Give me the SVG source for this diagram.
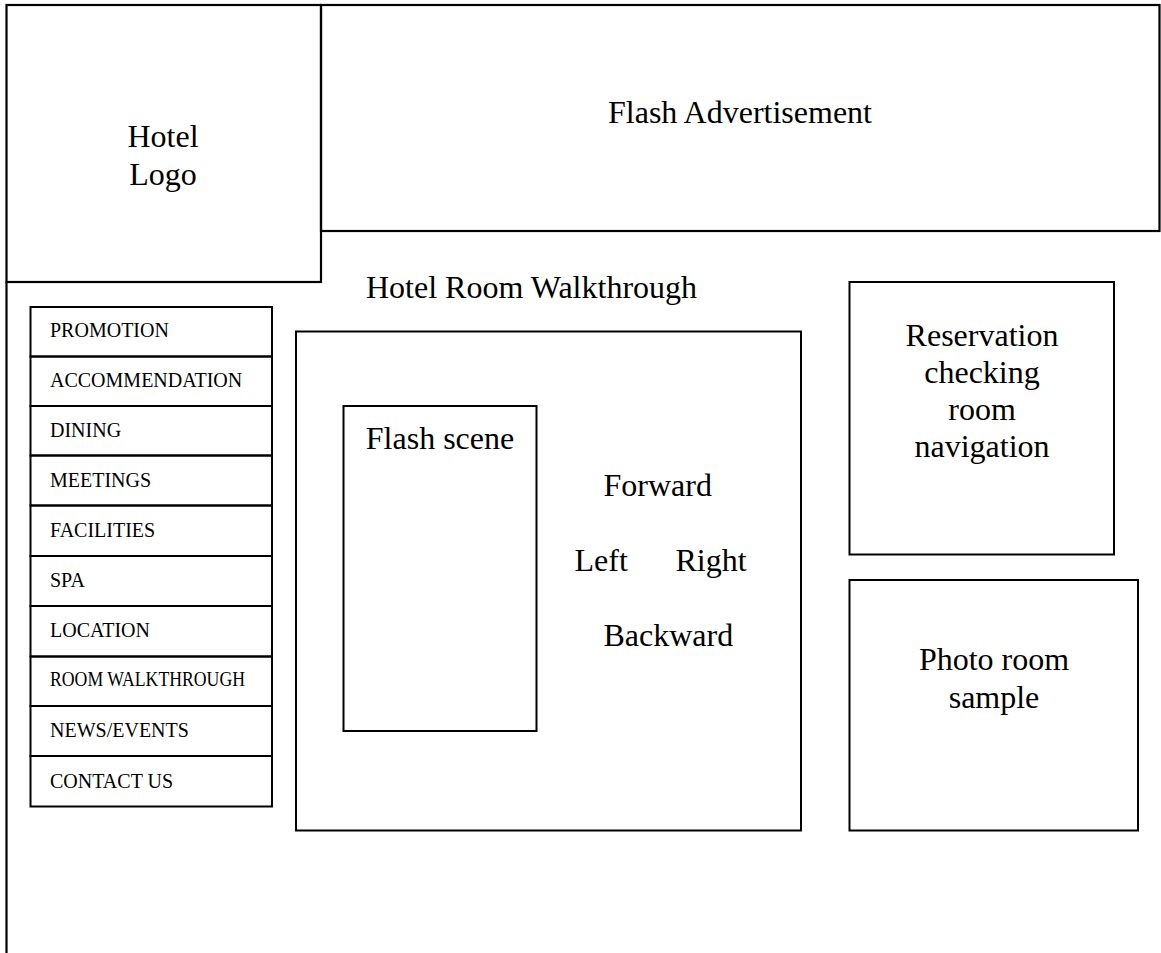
<svg xmlns="http://www.w3.org/2000/svg" width="1161" height="953" viewBox="0 0 1161 953">
  <style>
    .box { fill: none; stroke: #000; stroke-width: 2; }
    .frame { fill: none; stroke: #000; stroke-width: 2.2; }
    .big { font-family: "Liberation Serif", "Times New Roman", serif; font-size: 32px; fill: #000; }
    .mid { text-anchor: middle; }
    .menu { font-family: "Liberation Serif", "Times New Roman", serif; font-size: 20px; fill: #000; }
  </style>
  <rect width="1161" height="953" fill="#fff"/>

  <!-- page frame: left edge running down the page -->
  <g id="page-frame">
    <line class="frame" x1="6.5" y1="282" x2="6.5" y2="953"/>
  </g>

  <!-- header: logo block -->
  <g id="hotel-logo">
    <rect class="frame" x="6.5" y="5" width="314.5" height="277"/>
    <text class="big mid" x="163" y="147">Hotel</text>
    <text class="big mid" x="163" y="185">Logo</text>
  </g>

  <!-- header: advert banner -->
  <g id="flash-advertisement">
    <rect class="frame" x="321" y="5" width="838.5" height="226"/>
    <text class="big mid" x="740" y="123">Flash Advertisement</text>
  </g>

  <!-- left navigation menu -->
  <g id="nav-menu">
    <rect class="box" x="30.5" y="307" width="241.5" height="49.5"/>
    <rect class="box" x="30.5" y="356.5" width="241.5" height="49.5"/>
    <rect class="box" x="30.5" y="406" width="241.5" height="49.5"/>
    <rect class="box" x="30.5" y="455.5" width="241.5" height="50"/>
    <rect class="box" x="30.5" y="505.5" width="241.5" height="50.5"/>
    <rect class="box" x="30.5" y="556" width="241.5" height="50"/>
    <rect class="box" x="30.5" y="606" width="241.5" height="50.5"/>
    <rect class="box" x="30.5" y="656.5" width="241.5" height="49.5"/>
    <rect class="box" x="30.5" y="706" width="241.5" height="50"/>
    <rect class="box" x="30.5" y="756" width="241.5" height="50.5"/>
    <text class="menu" x="50" y="337">PROMOTION</text>
    <text class="menu" x="50" y="387">ACCOMMENDATION</text>
    <text class="menu" x="50" y="437">DINING</text>
    <text class="menu" x="50" y="486.5">MEETINGS</text>
    <text class="menu" x="50" y="536.5">FACILITIES</text>
    <text class="menu" x="50" y="587">SPA</text>
    <text class="menu" x="50" y="637">LOCATION</text>
    <text class="menu" x="50" y="686" font-size="19" textLength="195" lengthAdjust="spacingAndGlyphs">ROOM WALKTHROUGH</text>
    <text class="menu" x="50" y="737">NEWS/EVENTS</text>
    <text class="menu" x="50" y="788">CONTACT US</text>
  </g>

  <!-- central walkthrough panel -->
  <g id="room-walkthrough">
    <text class="big" x="366" y="298">Hotel Room Walkthrough</text>
    <rect class="box" x="296" y="331.5" width="505" height="499"/>
  </g>

  <g id="flash-scene">
    <rect class="box" x="343.5" y="406" width="193" height="325"/>
    <text class="big mid" x="440" y="448.5">Flash scene</text>
  </g>

  <g id="direction-controls">
    <text class="big" x="603.5" y="496">Forward</text>
    <text class="big" x="574.5" y="571">Left</text>
    <text class="big" x="675.5" y="571">Right</text>
    <text class="big" x="603.5" y="646">Backward</text>
  </g>

  <!-- right column -->
  <g id="reservation">
    <rect class="box" x="849.5" y="282" width="264.5" height="272.5"/>
    <text class="big mid" x="982" y="346">Reservation</text>
    <text class="big mid" x="982" y="383">checking</text>
    <text class="big mid" x="982" y="420">room</text>
    <text class="big mid" x="982" y="457">navigation</text>
  </g>

  <g id="photo-room-sample">
    <rect class="box" x="849.5" y="580" width="288.5" height="250.5"/>
    <text class="big mid" x="994" y="670">Photo room</text>
    <text class="big mid" x="994" y="708">sample</text>
  </g>

  <!-- layout has no connectors -->
  <g id="connectors"/>
</svg>
